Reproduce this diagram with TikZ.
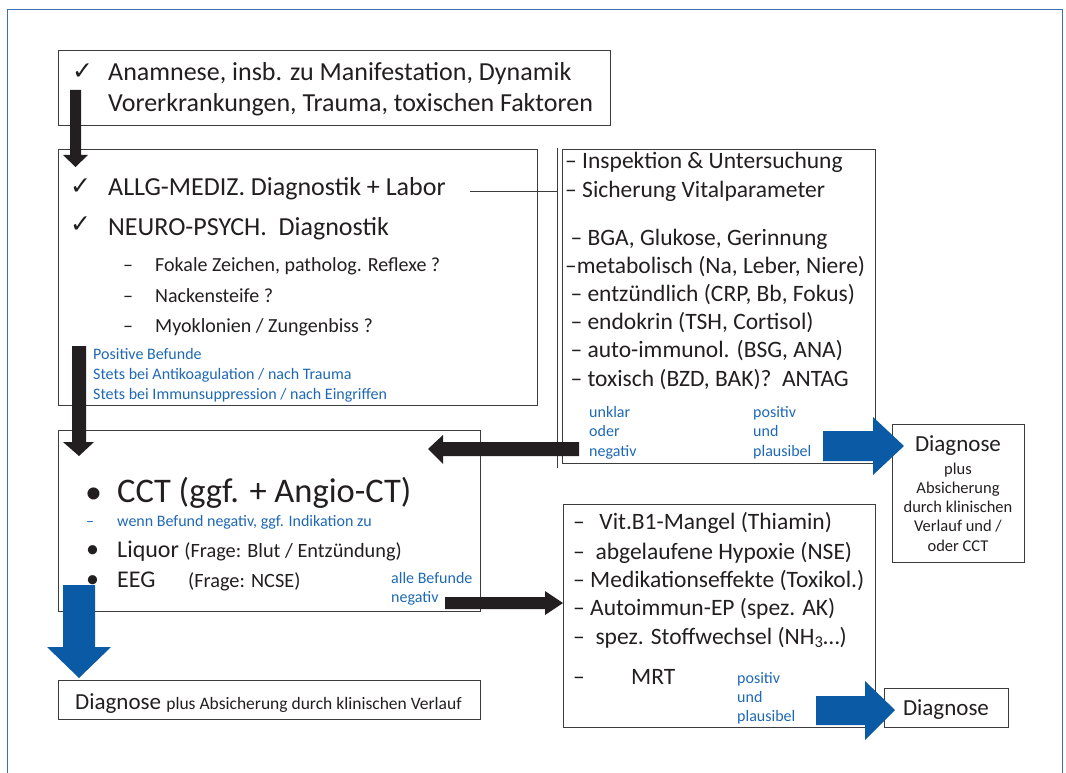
\documentclass[tikz,border=0pt]{standalone}
\usepackage{fontspec}
\setmainfont{Carlito}
\newfontfamily\dejavu{DejaVu Sans}
\definecolor{ink}{HTML}{231F20}
\definecolor{boxline}{HTML}{3C3C3C}
\definecolor{bluetxt}{HTML}{1F69B4}
\definecolor{bluearrow}{HTML}{0A5AA6}
\definecolor{frameblue}{HTML}{3A6FB0}
\newcommand{\fsz}[1]{\fontsize{#1}{#1}\selectfont}
\newcommand{\chk}{{\dejavu\fsz{25}✓}}
\tikzset{
  box/.style={draw=boxline, line width=0.8pt, inner sep=0pt, fill=none},
  txt/.style={anchor=base west, inner sep=0pt, text=ink},
  ctxt/.style={anchor=base, inner sep=0pt, text=ink},
  btxt/.style={anchor=base west, inner sep=0pt, text=bluetxt, font=\fsz{16}},
  blackarrow/.style={fill=ink, draw=none},
  bluearr/.style={fill=bluearrow, draw=none},
  thinline/.style={draw=boxline, line width=0.7pt}
}
\begin{document}
\begin{tikzpicture}[x=1pt,y=-1pt]
\useasboundingbox (0,0) rectangle (1066,773);
\fill[white] (0,0) rectangle (1066,773);
% outer frame
\draw[frameblue, line width=0.8pt] (7,780) -- (7,9) -- (1062,9) -- (1062,780);

% boxes
\node[box, minimum width=552pt, minimum height=75pt] (b1) at (334,87.5) {};
\node[box, minimum width=479pt, minimum height=256pt] (b2) at (297.5,277) {};
\node[box, minimum width=313pt, minimum height=314pt] (b3) at (718.5,306) {};
\node[box, minimum width=422pt, minimum height=181pt] (b4) at (269,520.5) {};
\node[box, minimum width=312pt, minimum height=223pt] (b5) at (719,615.5) {};
\node[box, minimum width=132pt, minimum height=138pt] (d1) at (958,493) {};
\node[box, minimum width=422pt, minimum height=39pt] (d2) at (269,699.5) {};
\node[box, minimum width=124pt, minimum height=39pt] (d3) at (946,707.5) {};

% vertical bracket line and connector
\coordinate (vtop) at (557,148);
\coordinate (vbot) at (557,468);
\draw[thinline] (vtop) -- (vbot);

% box 1 text
\node[txt] (c1) at (72,80) {\chk};
\node[txt, font=\fsz{26}] (t1a) at (108,81) {Anamnese, insb. zu Manifestation, Dynamik};
\node[txt, font=\fsz{26}] (t1b) at (108,112) {Vorerkrankungen, Trauma, toxischen Faktoren};

% box 2 text
\node[txt] (c2) at (70,194) {\chk};
\node[txt, font=\fsz{26}] (allg) at (108,196) {ALLG-MEDIZ. Diagnostik + Labor};
\node[txt] (c3) at (70,233) {\chk};
\node[txt, font=\fsz{26}] (neuro) at (108,235) {NEURO-PSYCH.\ \ Diagnostik};
\node[txt, font=\fsz{20}] (s1d) at (123,271) {–};
\node[txt, font=\fsz{20}] (s1) at (155,271) {Fokale Zeichen, patholog. Reflexe ?};
\node[txt, font=\fsz{20}] (s2d) at (123,302) {–};
\node[txt, font=\fsz{20}] (s2) at (155,302) {Nackensteife ?};
\node[txt, font=\fsz{20}] (s3d) at (123,332) {–};
\node[txt, font=\fsz{20}] (s3) at (155,332) {Myoklonien / Zungenbiss ?};
\node[btxt] (p1) at (93,359) {Positive Befunde};
\node[btxt] (p2) at (93,379) {Stets bei Antikoagulation / nach Trauma};
\node[btxt] (p3) at (93,399) {Stets bei Immunsuppression / nach Eingriffen};

\coordinate (labR) at (470,191);
\draw[thinline] (labR) -- (labR -| vtop);

% box 3 text
\begin{scope}[every node/.append style={txt, font=\fsz{23.5}}]
\node (r1) at (565,169) {– Inspektion \& Untersuchung};
\node (r2) at (565,197) {– Sicherung Vitalparameter};
\node (r3) at (565,245) {\ – BGA, Glukose, Gerinnung};
\node (r4) at (565,273) {–metabolisch (Na, Leber, Niere)};
\node (r5) at (565,301) {\ – entzündlich (CRP, Bb, Fokus)};
\node (r6) at (565,329) {\ – endokrin (TSH, Cortisol)};
\node (r7) at (565,357) {\ – auto-immunol. (BSG, ANA)};
\node (r8) at (565,386) {\ – toxisch (BZD, BAK)?\ \ ANTAG};
\end{scope}
\node[btxt] (u1) at (589,417) {unklar};
\node[btxt] (u2) at (589,436) {oder};
\node[btxt] (u3) at (589,456) {negativ};
\node[btxt] (q1) at (753,417) {positiv};
\node[btxt] (q2) at (753,436) {und};
\node[btxt] (q3) at (753,456) {plausibel};

% right diagnose box
\node[ctxt, font=\fsz{23}] (dg1) at (958,451) {Diagnose};
\node[ctxt, font=\fsz{16.5}] (dl1) at (958,474) {plus};
\node[ctxt, font=\fsz{16.5}] (dl2) at (958,493) {Absicherung};
\node[ctxt, font=\fsz{16.5}] (dl3) at (958,512) {durch klinischen};
\node[ctxt, font=\fsz{16.5}] (dl4) at (958,531) {Verlauf und /};
\node[ctxt, font=\fsz{16.5}] (dl5) at (958,551) {oder CCT};

% box 4 text
\node[txt, font=\fsz{34}] (bu1) at (85,503) {•};
\node[txt, font=\fsz{34.5}] (cct) at (117,502) {CCT (ggf. + Angio-CT)};
\node[btxt] (wd) at (86,526) {–};
\node[btxt] (wenn) at (117,526) {wenn Befund negativ, ggf. Indikation zu};
\node[txt, font=\fsz{26}] (bu2) at (86,557) {•};
\node[txt] (liq) at (117,557) {\fsz{24}Liquor\ \fsz{20.3}(Frage: Blut / Entzündung)};
\node[txt, font=\fsz{26}] (bu3) at (86,587) {•};
\node[txt, font=\fsz{24}] (eeg) at (117,587) {EEG};
\node[txt, font=\fsz{20.3}] (eegq) at (188,587) {(Frage: NCSE)};
\node[btxt] (ab1) at (391,583) {alle Befunde};
\node[btxt] (ab2) at (391,602) {negativ};

% bottom-left diagnose
\node[txt] (dd) at (75,709) {\fsz{23}Diagnose\ \fsz{17.5}plus Absicherung durch klinischen Verlauf};

% box 5 text
\begin{scope}[every node/.append style={txt, font=\fsz{23.5}}]
\node (m1) at (573,529) {–\ \ \,Vit.B1-Mangel (Thiamin)};
\node (m2) at (573,559) {–\ \ abgelaufene Hypoxie (NSE)};
\node (m3) at (573,587) {– Medikationseffekte (Toxikol.)};
\node (m4) at (573,615) {– Autoimmun-EP (spez. AK)};
\node (m5) at (573,644) {–\ \ spez. Stoffwechsel (NH\textsubscript{3}…)};
\node (m6d) at (573,684) {–};
\node (m6) at (631,684) {MRT};
\end{scope}
\node[btxt] (v1) at (737,683) {positiv};
\node[btxt] (v2) at (737,702) {und};
\node[btxt] (v3) at (737,721) {plausibel};

% bottom right diagnose
\node[ctxt, font=\fsz{23}] (dg3) at (946,715) {Diagnose};

% arrows
% b1 -> b2
\fill[blackarrow] (70,90) -- (81,90) -- (81,155) -- (88,155) -- (75.5,167) -- (63,155) -- (70,155) -- cycle;
% b2 -> b4
\fill[blackarrow] (72,346) -- (86,346) -- (86,442) -- (94,442) -- (79,456) -- (63,442) -- (72,442) -- cycle;
% b3 -> b4 (left)
\fill[blackarrow] (579,442) -- (579,456) -- (443,456) -- (443,464) -- (428,449) -- (443,435) -- (443,442) -- cycle;
% b3 -> d1 (blue right)
\fill[bluearr] (823,431) -- (873,431) -- (873,417) -- (904,446) -- (873,475) -- (873,461) -- (823,461) -- cycle;
% b4 -> b5 (right)
\fill[blackarrow] (445,597) -- (545,597) -- (545,591) -- (563,603) -- (545,615) -- (545,609) -- (445,609) -- cycle;
% b4 -> d2 (blue down)
\fill[bluearr] (63,585) -- (95,585) -- (95,647) -- (111,647) -- (79,678) -- (47,647) -- (63,647) -- cycle;
% b5 -> d3 (blue right)
\fill[bluearr] (816,696) -- (865,696) -- (865,681) -- (895,710) -- (865,740) -- (865,725) -- (816,725) -- cycle;
\end{tikzpicture}
\end{document}
